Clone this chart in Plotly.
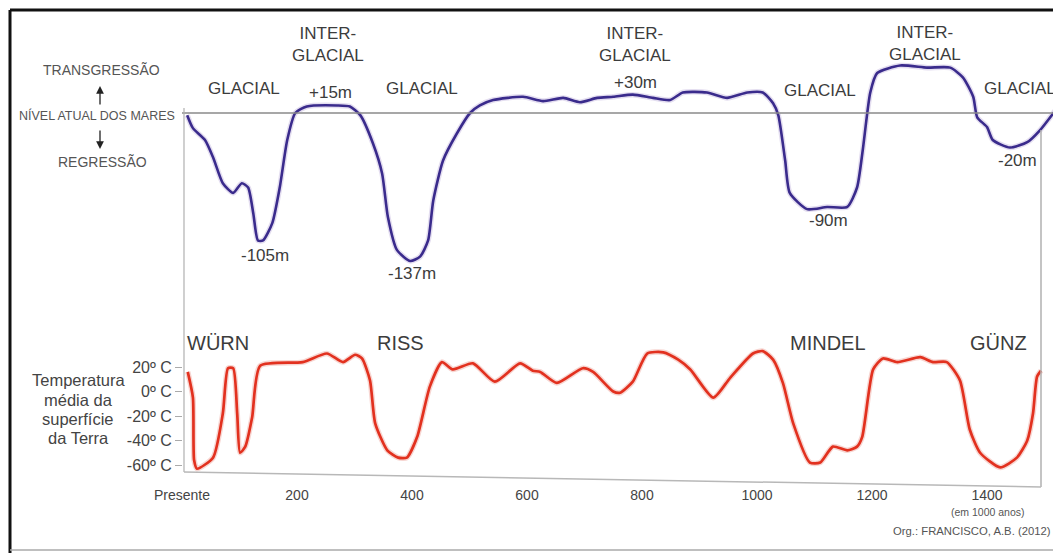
import plotly.graph_objects as go

# ---------------- data ----------------
# Sea level curve (time in thousand years, level in m, schematic)
sea_t = [9, 19, 40, 54, 71, 89, 104, 115, 124, 132, 141, 157, 170, 183, 197, 217, 270, 292,
         310, 332, 348, 358, 374, 397, 414, 428, 437, 454, 478, 501, 518, 541, 593, 628,
         663, 692, 722, 750, 784, 819, 849, 871, 913, 948, 983, 1010, 1028, 1037, 1049,
         1057, 1087, 1122, 1157, 1174, 1184, 1197, 1209, 1249, 1296, 1336, 1358, 1376,
         1383, 1400, 1410, 1440, 1470, 1492, 1524]
sea_m = [-2, -14, -25, -41, -65, -74, -65, -69, -93, -118, -118, -102, -69, -25, 0, 6, 7, 6,
         -2, -28, -56, -96, -127, -137, -133, -118, -81, -44, -19, 0, 7, 12, 15, 11,
         14, 10, 14, 15, 17, 14, 12, 19, 19, 14, 19, 19, 9, -2, -44,
         -74, -89, -87, -87, -69, -34, 19, 37, 44, 42, 42, 33, 15,
         -4, -13, -25, -32, -27, -16, 6]

# Mean surface temperature curve (°C)
temp_t = [10, 19, 21, 26, 54, 71, 80, 89, 96, 101, 110, 122, 136, 210, 252, 280, 301, 313,
          327, 336, 357, 376, 391, 409, 431, 452, 471, 506, 544, 588, 610, 623, 652, 697,
          715, 750, 762, 784, 809, 837, 863, 884, 924, 953, 993, 1010, 1028, 1045, 1063,
          1092, 1110, 1132, 1157, 1174, 1183, 1202, 1219, 1244, 1284, 1306, 1330, 1353,
          1370, 1388, 1423, 1452, 1470, 1480, 1487, 1494]
temp_c = [16, -5, -56, -63, -54, -18, 19, 19, -18, -50, -45, -21, 21, 24, 31, 24, 30, 27,
          9, -26, -48, -54, -54, -37, 4, 24, 18, 23, 8, 23, 17, 16, 7, 19,
          16, 0, -1, 8, 31, 32, 26, 18, -5, 11, 31, 33, 26, 7, -26,
          -58, -58, -45, -48, -45, -37, 18, 27, 24, 28, 24, 24, 9,
          -31, -50, -62, -54, -40, -18, 12, 17]

x_tickvals = [0, 200, 400, 600, 800, 1000, 1200, 1400]
x_ticktext = ["Presente", "200", "400", "600", "800", "1000", "1200", "1400"]
temp_tickvals = [20, 0, -20, -40, -60]
temp_ticktext = ["20º C", "0º C", "-20º C", "-40º C", "-60º C"]

# ---------------- layout helpers ----------------
# page body keeps an 8px margin, so the figure is drawn 8px smaller and all
# reference pixel positions are shifted by that offset
OFF = 8
W, H = 1061 - OFF, 553 - OFF
FONT = "Liberation Sans, Arial, Helvetica, sans-serif"
TXT = "#3c3c3c"


def px(x):
    return (x - OFF) / W


def py(y):
    return 1 - (y - OFF) / H


fig = go.Figure()

fig.add_trace(go.Scatter(x=sea_t, y=sea_m, mode="lines", yaxis="y", xaxis="x",
                         line=dict(color="#e4def0", width=5.5, shape="spline", smoothing=0.6),
                         hoverinfo="skip", showlegend=False))
fig.add_trace(go.Scatter(x=sea_t, y=sea_m, mode="lines", yaxis="y", xaxis="x",
                         line=dict(color="#3a2b8c", width=2.6, shape="spline", smoothing=0.6),
                         name="Nível do mar", showlegend=False))
fig.add_trace(go.Scatter(x=temp_t, y=temp_c, mode="lines", yaxis="y2", xaxis="x",
                         line=dict(color="#f7d6d2", width=5.5, shape="spline", smoothing=0.6),
                         hoverinfo="skip", showlegend=False))
fig.add_trace(go.Scatter(x=temp_t, y=temp_c, mode="lines", yaxis="y2", xaxis="x",
                         line=dict(color="#e2311f", width=2.7, shape="spline", smoothing=0.6),
                         name="Temperatura", showlegend=False))

X0 = 182          # pixel of t = 0
SX = 0.575        # pixels per thousand years
x_end = (1061 - X0) / SX
up_lo, up_hi = (113 - 290) / 1.08, (113 - 40) / 1.08
lo_lo, lo_hi = 20 - (472 - 367) / 1.225, 20 - (340 - 367) / 1.225

fig.update_layout(
    template="none",
    width=W, height=H, autosize=False,
    margin=dict(l=0, r=0, t=0, b=0, pad=0),
    paper_bgcolor="white", plot_bgcolor="rgba(0,0,0,0)",
    font=dict(family=FONT, color=TXT),
    xaxis=dict(domain=[px(X0), 1], range=[0, x_end], anchor="y2", automargin=False,
               tickvals=x_tickvals, ticktext=x_ticktext, showgrid=False, zeroline=False,
               showline=False, ticks="", ticklabelstandoff=13,
               tickfont=dict(size=14, color="#444", family=FONT)),
    yaxis=dict(domain=[py(290), py(40)], range=[up_lo, up_hi], visible=False,
               automargin=False),
    yaxis2=dict(domain=[py(472), py(340)], range=[lo_lo, lo_hi], anchor="free",
                position=px(X0), tickvals=temp_tickvals, ticktext=temp_ticktext,
                automargin=False, showgrid=False, zeroline=False, showline=False,
                ticks="outside", ticklen=7, tickcolor="#aaa", tickwidth=1,
                tickfont=dict(size=16, color="#444", family=FONT)),
    showlegend=False,
)

shapes = []
# outer frame
shapes.append(dict(type="line", xref="paper", yref="paper", x0=px(10), x1=1, y0=py(10), y1=py(10),
                   line=dict(color="#111", width=3)))
shapes.append(dict(type="line", xref="paper", yref="paper", x0=px(10), x1=px(10), y0=py(10), y1=0,
                   line=dict(color="#111", width=3)))
shapes.append(dict(type="line", xref="paper", yref="paper", x0=px(10), x1=1, y0=py(550), y1=py(550),
                   line=dict(color="#aaa", width=1.5)))
# sea level line
shapes.append(dict(type="line", xref="x", yref="y", x0=0, x1=x_end, y0=0, y1=0,
                   line=dict(color="#8a8a8a", width=1.5)))
# left vertical axis line
shapes.append(dict(type="line", xref="paper", yref="paper", x0=px(184), x1=px(184), y0=py(108), y1=py(472),
                   line=dict(color="#b0b0b0", width=1.2)))
# right vertical line
shapes.append(dict(type="line", xref="paper", yref="paper", x0=px(1041), x1=px(1041), y0=py(130), y1=py(487),
                   line=dict(color="#b0b0b0", width=1.5)))
# bottom (slightly slanted) axis line
shapes.append(dict(type="line", xref="paper", yref="paper", x0=px(184), x1=px(1041), y0=py(472), y1=py(487),
                   line=dict(color="#b8b8b8", width=1.5)))
fig.update_layout(shapes=shapes)

ann = []


def text(x, y, s, size=17, color=TXT, xanchor="center"):
    ann.append(dict(x=px(x), y=py(y), xref="paper", yref="paper", text=s, showarrow=False,
                    xanchor=xanchor, yanchor="middle", font=dict(size=size, color=color, family=FONT)))


# left side labels
text(101, 70, "TRANSGRESSÃO", 14, "#555")
text(97, 115, "NÍVEL ATUAL DOS MARES", 12.5, "#555")
text(102, 162, "REGRESSÃO", 14, "#555")
for s, yy in [("Temperatura", 380), ("média da", 400), ("superfície", 419), ("da Terra", 438)]:
    text(78, yy, s, 16.5, "#444")

# arrows
ann.append(dict(x=px(100), y=py(86), xref="paper", yref="paper", ax=0, ay=20, text="",
                showarrow=True, arrowhead=2, arrowsize=1.2, arrowwidth=1.3, arrowcolor="#222"))
ann.append(dict(x=px(100), y=py(149), xref="paper", yref="paper", ax=0, ay=-20, text="",
                showarrow=True, arrowhead=2, arrowsize=1.2, arrowwidth=1.3, arrowcolor="#222"))

# upper panel labels
text(244, 89, "GLACIAL")
text(328, 44, "INTER-<br>GLACIAL")
text(330, 93, "+15m")
text(422, 89, "GLACIAL")
text(265, 255, "-105m")
text(412, 273, "-137m")
text(635, 44, "INTER-<br>GLACIAL")
text(635, 82, "+30m")
text(820, 90, "GLACIAL")
text(925, 43, "INTER-<br>GLACIAL")
text(1020, 88, "GLACIAL")
text(828, 220, "-90m")
text(1017, 160, "-20m")

# lower panel labels
text(218, 343, "WÜRN", 20)
text(400, 343, "RISS", 20)
text(828, 343, "MINDEL", 20)
text(998, 343, "GÜNZ", 20)

# footnotes
text(988, 512, "(em 1000 anos)", 10.5, "#555")
text(1053, 531, "Org.: FRANCISCO, A.B. (2012)", 11.3, "#555", xanchor="right")

fig.update_layout(annotations=ann)

fig.write_html("out.html")
